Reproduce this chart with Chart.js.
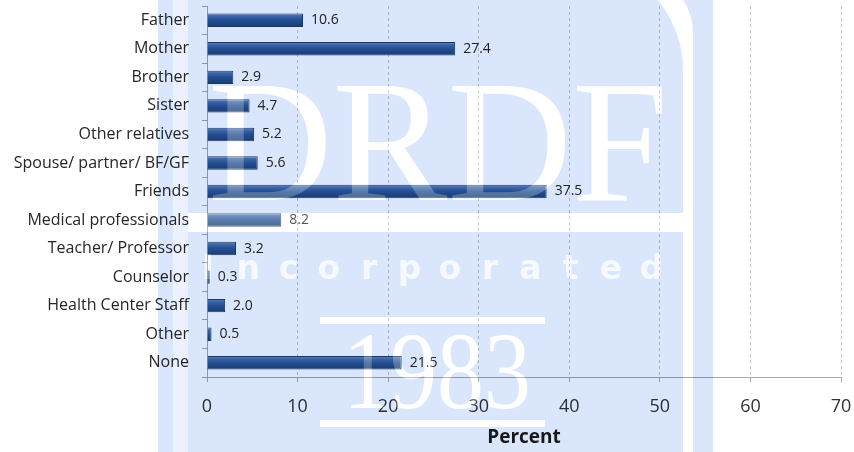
<!DOCTYPE html>
<html>
<head>
<meta charset="utf-8">
<script src="https://cdn.jsdelivr.net/npm/chart.js@4.4.1/dist/chart.umd.min.js"></script>
<style>
html,body{margin:0;padding:0;background:#fff}
canvas{display:block}
</style>
</head>
<body>
<canvas id="chart" width="854" height="452"></canvas>
<script>
const categories = ['Father', 'Mother', 'Brother', 'Sister', 'Other relatives', 'Spouse/ partner/ BF/GF', 'Friends',
  'Medical professionals', 'Teacher/ Professor', 'Counselor', 'Health Center Staff', 'Other', 'None']
const percents = [10.6, 27.4, 2.9, 4.7, 5.2, 5.6, 37.5, 8.2, 3.2, 0.3, 2.0, 0.5, 21.5]
const xMin = 0
const xMax = 70
const xStep = 10

const FONT = "'Open Sans', 'Noto Sans', sans-serif"

// bar fill: glossy vertical gradient around each bar's centre
function barFill(ctx) {
  const chart = ctx.chart
  const y = chart.scales && chart.scales.y
  if (ctx.type !== 'data' || !y) return '#2a5595'
  const c = y.getPixelForValue(ctx.dataIndex)
  if (!isFinite(c)) return '#2a5595'
  const g = chart.ctx.createLinearGradient(0, c - 7, 0, c + 7)
  g.addColorStop(0, '#8aa6d0')
  g.addColorStop(0.18, '#4a73ae')
  g.addColorStop(0.5, '#2a5594')
  g.addColorStop(1, '#1b426f')
  return g
}

const valueLabels = {
  id: 'valueLabels',
  afterDatasetsDraw(chart) {
    const ctx = chart.ctx
    const meta = chart.getDatasetMeta(0)
    ctx.save()
    ctx.font = '14px ' + FONT
    ctx.fillStyle = '#262626'
    ctx.textAlign = 'left'
    ctx.textBaseline = 'middle'
    meta.data.forEach((bar, i) => {
      ctx.fillText(percents[i].toFixed(1), bar.x + 8, bar.y)
    })
    ctx.restore()
  }
}

// the letters and bars of the logo
function logoShapes(c, softAlpha) {
  const a = c.globalAlpha
  c.fillRect(188, 213, 495, 19)
  c.fillRect(320, 317, 225, 7)
  c.fillRect(320, 420, 225, 7)
  c.textBaseline = 'alphabetic'
  c.textAlign = 'left'
  c.font = "174px 'Liberation Serif', serif"
  c.fillText('DRDF', 208, 200, 460)
  c.font = "110px 'Liberation Serif', serif"
  c.fillText('1983', 343, 408, 188)
  c.globalAlpha = a * softAlpha
  c.font = "bold 33px 'DejaVu Sans', sans-serif"
  c.textAlign = 'center'
  const word = 'Incorporated'
  for (let i = 0; i < word.length; i++) {
    c.fillText(word[i], 208 + i * 40.3, 279)
  }
  c.globalAlpha = a
}

// faint "DRDF Incorporated 1983" logo sitting over the chart
const watermark = {
  id: 'watermark',
  afterDraw(chart) {
    const ctx = chart.ctx
    const off = document.createElement('canvas')
    off.width = chart.width
    off.height = chart.height
    const o = off.getContext('2d')
    o.fillStyle = '#dae6fb'
    o.beginPath()
    o.roundRect(158, -50, 555, 560, [0, 50, 0, 0])
    o.roundRect(173, -27, 520, 540, [0, 60, 0, 0])
    o.roundRect(188, -40, 495, 560, [0, 110, 0, 0])
    o.fill('evenodd')
    o.fillStyle = '#ecf2fd'
    o.fillRect(173, 0, 15, 452)
    o.globalCompositeOperation = 'destination-out'
    o.fillStyle = '#000'
    logoShapes(o, 0.7)

    ctx.save()
    ctx.globalCompositeOperation = 'multiply'
    ctx.drawImage(off, 0, 0)
    ctx.globalCompositeOperation = 'source-over'
    ctx.fillStyle = 'rgba(255,255,255,0.22)'
    logoShapes(ctx, 0.7)
    ctx.restore()
  }
}

new Chart(document.getElementById('chart'), {
  type: 'bar',
  data: {
    labels: categories,
    datasets: [{
      data: percents,
      backgroundColor: barFill,
      borderColor: '#1c3c6c',
      borderWidth: 1,
      barPercentage: 0.47,
      categoryPercentage: 1
    }]
  },
  options: {
    indexAxis: 'y',
    responsive: false,
    animation: false,
    layout: {padding: {top: 6, right: 13, left: 0, bottom: 0}},
    plugins: {legend: {display: false}, tooltip: {enabled: false}},
    scales: {
      x: {
        min: xMin,
        max: xMax,
        ticks: {stepSize: xStep, color: '#333', font: {family: FONT, size: 18}, padding: 14},
        grid: {color: '#c4c4c4', tickColor: '#a6a6a6', tickLength: 5, tickBorderDash: [1, 0]},
        border: {color: '#a6a6a6', dash: [3, 3]},
        title: {display: true, text: 'Percent', color: '#1a1a1a', font: {family: FONT, size: 19, weight: 'bold'}, padding: {top: 0, bottom: 3}},
        afterFit(scale) {
          scale.height = 75
          scale.paddingLeft = 0
          scale.paddingRight = 0
        }
      },
      y: {
        ticks: {color: '#262626', font: {family: FONT, size: 16}, padding: 13},
        grid: {display: true, drawOnChartArea: false, offset: true, tickLength: 5, tickColor: '#a6a6a6'},
        border: {color: '#a6a6a6'},
        afterFit(scale) {
          scale.width = 207
          scale.paddingTop = 0
          scale.paddingBottom = 0
        }
      }
    }
  },
  plugins: [valueLabels, watermark]
})
</script>
</body>
</html>
